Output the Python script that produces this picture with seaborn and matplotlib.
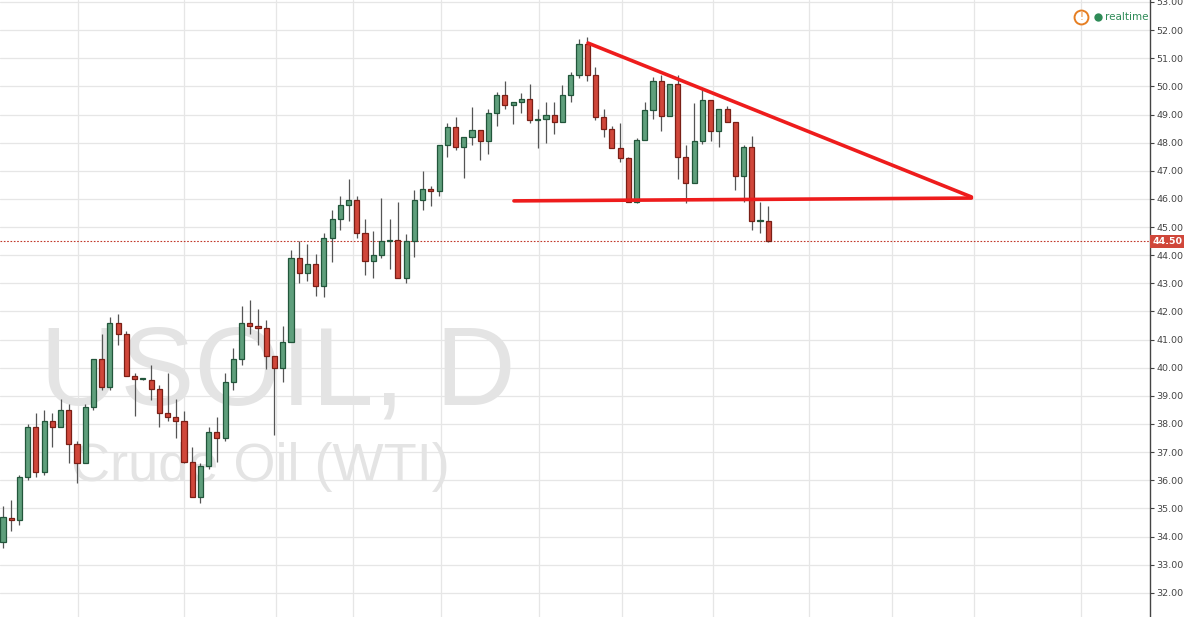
import numpy as np
import pandas as pd
import matplotlib.pyplot as plt
import seaborn as sns

sns.set_theme(style="white")
plt.rcParams['font.family'] = ['DejaVu Sans']

# daily candles
opens = [33.8, 34.65, 34.6, 36.1, 37.9, 36.3, 38.1, 37.9, 38.5, 37.3,
         36.6, 38.6, 40.3, 39.3, 41.6, 41.2, 39.7, 39.6, 39.55, 39.25,
         38.4, 38.25, 38.1, 36.65, 35.4, 36.5, 37.7, 37.5, 39.5, 40.3,
         41.6, 41.5, 41.4, 40.4, 40.0, 40.9, 43.9, 43.35, 43.7, 42.9,
         44.6, 45.3, 45.8, 45.95, 44.8, 43.8, 44.0, 44.5, 44.55, 43.2,
         44.5, 45.95, 46.35, 46.28, 47.9, 48.55, 47.85, 48.2, 48.45, 48.05,
         49.05, 49.7, 49.35, 49.45, 49.55, 48.8, 48.85, 49.0, 48.75, 49.7,
         50.4, 51.5, 50.4, 48.9, 48.5, 47.8, 47.45, 45.9, 48.1, 49.15,
         50.2, 48.95, 50.1, 47.5, 46.55, 48.05, 49.5, 48.4, 49.2, 48.75,
         46.8, 47.85, 45.2, 45.2]
closes = [34.7, 34.6, 36.1, 37.9, 36.3, 38.1, 37.9, 38.5, 37.3, 36.6,
          38.6, 40.3, 39.3, 41.6, 41.2, 39.7, 39.6, 39.6, 39.25, 38.4,
          38.25, 38.1, 36.65, 35.4, 36.5, 37.7, 37.5, 39.5, 40.3, 41.6,
          41.5, 41.4, 40.4, 40.0, 40.9, 43.9, 43.35, 43.7, 42.9, 44.6,
          45.3, 45.8, 45.95, 44.8, 43.8, 44.0, 44.5, 44.55, 43.2, 44.5,
          45.95, 46.35, 46.28, 47.9, 48.55, 47.85, 48.2, 48.45, 48.05, 49.05,
          49.7, 49.35, 49.45, 49.55, 48.8, 48.85, 49.0, 48.75, 49.7, 50.4,
          51.5, 50.4, 48.9, 48.5, 47.8, 47.45, 45.9, 48.1, 49.15, 50.2,
          48.95, 50.1, 47.5, 46.55, 48.05, 49.5, 48.4, 49.2, 48.75, 46.8,
          47.85, 45.2, 45.2, 44.5]
highs = [35.1, 35.3, 36.2, 38.0, 38.4, 38.5, 38.4, 38.9, 38.7, 37.4,
         38.7, 40.3, 41.2, 41.8, 41.9, 41.3, 39.8, 39.65, 40.1, 39.4,
         39.8, 38.9, 38.45, 37.2, 36.6, 37.9, 38.25, 39.8, 40.7, 42.2,
         42.4, 42.1, 41.7, 40.4, 41.5, 44.2, 44.5, 44.4, 44.05, 44.8,
         45.6, 46.1, 46.7, 46.1, 45.3, 44.85, 46.05, 45.3, 45.9, 44.75,
         46.3, 47.0, 46.45, 47.9, 48.7, 48.9, 48.2, 49.25, 48.45, 49.2,
         49.8, 50.2, 49.45, 49.75, 50.1, 49.2, 49.45, 49.45, 50.05, 50.5,
         51.7, 51.75, 50.7, 49.2, 48.6, 48.7, 47.5, 48.15, 49.45, 50.35,
         50.4, 50.1, 50.4, 47.9, 49.4, 49.95, 49.5, 49.2, 49.3, 48.75,
         47.9, 48.25, 45.9, 45.75]
lows = [33.6, 34.2, 34.4, 36.0, 36.1, 36.2, 37.2, 37.9, 36.6, 35.9,
        36.6, 38.5, 39.2, 39.2, 40.8, 39.7, 38.3, 39.55, 38.85, 37.9,
        38.1, 37.5, 36.6, 35.4, 35.2, 36.4, 36.65, 37.4, 39.2, 40.1,
        41.2, 40.8, 39.95, 37.6, 39.5, 40.9, 43.0, 43.1, 42.55, 42.5,
        43.75, 44.9, 45.2, 44.6, 43.3, 43.2, 43.9, 43.5, 43.2, 43.0,
        43.95, 45.6, 45.75, 46.1, 47.5, 47.75, 46.75, 47.9, 47.4, 47.6,
        48.6, 49.2, 48.65, 49.05, 48.7, 47.8, 48.0, 48.3, 48.75, 49.45,
        50.3, 50.2, 48.8, 48.2, 47.8, 47.3, 45.9, 45.85, 48.1, 48.85,
        48.4, 48.95, 46.7, 45.85, 46.55, 47.95, 48.05, 47.85, 48.75, 46.3,
        45.9, 44.9, 44.8, 44.47]

# hand-drawn pattern lines (bar index, price)
upper_x = [71.1, 117.7]
upper_y = [51.54, 46.07]
base_x = [62.1, 117.7]
base_y = [45.93, 46.03]
last_price = 44.50
vgrid = [9.1, 22.0, 33.2, 42.6, 53.2, 65.1, 75.2, 86.3, 98.0, 108.0, 118.0, 131.0]
yticks = list(range(32, 54))

df = pd.DataFrame({'open': opens, 'close': closes, 'high': highs, 'low': lows})
df['x'] = np.arange(len(df))
df['up'] = df['close'] >= df['open']

fig = plt.figure(figsize=(11.85, 6.17), dpi=100)
ax = fig.add_axes([0, 0, 1150 / 1185, 1])
ax.set_xlim(-0.36, 139.4)
ax.set_ylim(31.14, 53.07)

# grid
for t in yticks:
    ax.axhline(t, color='#e6e6e6', lw=0.9, zorder=0)
for g in vgrid:
    ax.axvline(g, color='#e6e6e6', lw=0.9, zorder=0)

# watermark
ax.text(0.035, 0.345, 'USOIL, D', transform=ax.transAxes, fontsize=80,
        color='#e4e4e4', family='Liberation Sans', zorder=0.5)
ax.text(0.062, 0.22, 'Crude Oil (WTI)', transform=ax.transAxes, fontsize=39,
        color='#e4e4e4', family='Liberation Sans', zorder=0.5)

green_f, green_e = '#5f9f7c', '#22563b'
red_f, red_e = '#d0473a', '#7a1f16'
for _, r in df.iterrows():
    fc, ec = (green_f, green_e) if r['up'] else (red_f, red_e)
    ax.vlines(r['x'], r['low'], r['high'], color='#555555', lw=0.9, zorder=2)
    h = max(abs(r['close'] - r['open']), 0.04)
    ax.bar(r['x'], h, bottom=min(r['open'], r['close']), width=0.62,
           color=fc, edgecolor=ec, linewidth=0.9, zorder=3)

# pattern lines
sns.lineplot(x=upper_x, y=upper_y, ax=ax, color='#ee1c1c', lw=2.6, zorder=4)
sns.lineplot(x=base_x, y=base_y, ax=ax, color='#ee1c1c', lw=2.6, zorder=4)

ax.axhline(last_price, color='#c0392b', lw=0.8, ls=(0, (1.5, 1.5)), zorder=1)

# right price scale
ax.yaxis.tick_right()
ax.set_yticks(yticks)
ax.set_yticklabels([f'{t:.2f}' for t in yticks], fontsize=6.8, color='#444444')
ax.tick_params(axis='y', length=3, width=0.8, color='#444444', pad=1.5, direction='out')
ax.set_xticks([])
for s in ['top', 'left', 'bottom']:
    ax.spines[s].set_visible(False)
ax.spines['right'].set_color('#444444')
ax.spines['right'].set_linewidth(1.0)

ax.text(1.002, last_price, f'{last_price:.2f}', transform=ax.get_yaxis_transform(),
        fontsize=6.8, color='white', va='center', ha='left', fontweight='bold',
        bbox=dict(boxstyle='square,pad=0.22', fc='#d0473a', ec='none'), clip_on=False)

# realtime badge
by = 1 - 17 / 617
fig.add_artist(plt.Line2D([1081 / 1185], [by], marker='o', ms=10, mfc='white',
                          mec='#e67e22', mew=1.4, transform=fig.transFigure))
fig.text(1081 / 1185, by, '!', color='#e67e22', fontsize=7, ha='center', va='center')
fig.add_artist(plt.Line2D([1098 / 1185], [by], marker='o', ms=6, mfc='#2e8b57',
                          mec='none', transform=fig.transFigure))
fig.text(1105 / 1185, by, 'realtime', color='#2e8b57', fontsize=7.5, va='center')

fig.savefig('out.png', dpi=100)
